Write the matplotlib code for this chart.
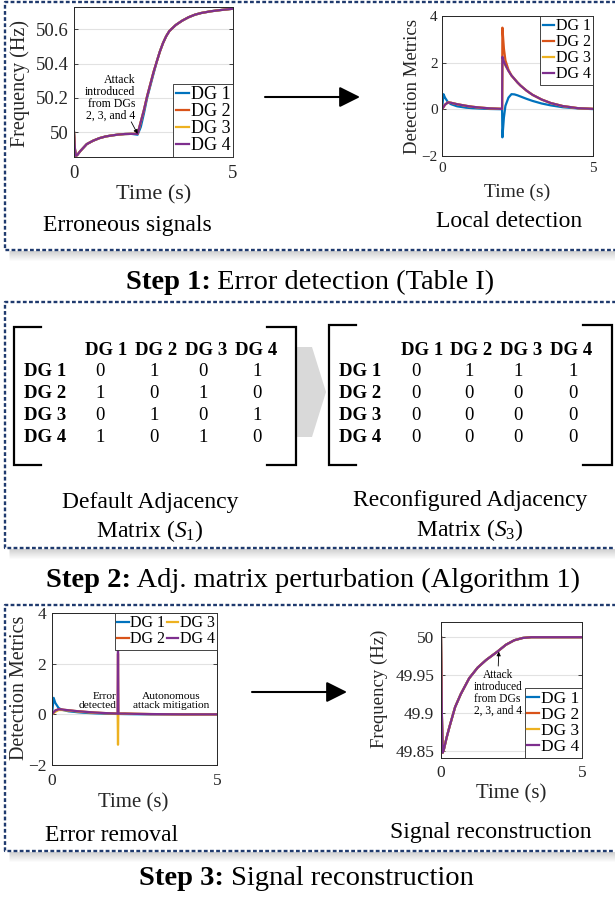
"""Three-step attack detection / mitigation figure
"""
import matplotlib
matplotlib.use('Agg')
import matplotlib.pyplot as plt
from matplotlib.patches import Polygon
from matplotlib.ticker import FormatStrFormatter

plt.rcParams['font.family'] = ['Liberation Serif', 'DejaVu Serif']
plt.rcParams['mathtext.fontset'] = 'custom'
plt.rcParams['mathtext.rm'] = 'Liberation Serif'
plt.rcParams['mathtext.it'] = 'Liberation Serif:italic'
plt.rcParams['mathtext.bf'] = 'Liberation Serif:bold'

W, H = 615, 897

# ---------------- data ----------------
dg_names = ['DG 1', 'DG 2', 'DG 3', 'DG 4']
dg_colors = ['#0072BD', '#D95319', '#EDB120', '#7E2F8E']

# step 1 - erroneous frequency signals
t_err = [0, 0.03, 0.06, 0.1, 0.2, 0.4, 0.6, 0.8, 1.0, 1.2, 1.4, 1.6, 1.8, 2.0, 2.1, 2.2,
         2.3, 2.4, 2.5, 2.6, 2.7, 2.8, 2.9, 3.0, 3.2, 3.4, 3.6, 3.8, 4.0, 4.3, 4.6, 5.0]
f_err_dg1 = [50.0, 49.9, 49.862, 49.866, 49.89, 49.93, 49.95, 49.965, 49.975, 49.981, 49.986, 49.989,
             49.99, 49.985, 50.03, 50.11, 50.2, 50.27, 50.34, 50.41, 50.47, 50.52, 50.56, 50.59,
             50.625, 50.65, 50.67, 50.685, 50.695, 50.705, 50.712, 50.72]
f_err_dg2 = [50.0, 49.9, 49.862, 49.866, 49.89, 49.93, 49.95, 49.965, 49.975, 49.981, 49.986, 49.989,
             49.99, 49.99, 50.06, 50.13, 50.21, 50.28, 50.35, 50.41, 50.47, 50.52, 50.56, 50.59,
             50.625, 50.65, 50.67, 50.685, 50.695, 50.705, 50.712, 50.72]
f_err_dg3 = f_err_dg2
f_err_dg4 = f_err_dg2

# step 1 - local detection metrics
t_loc = [0, 0.05, 0.1, 0.2, 0.3, 0.5, 0.8, 1.0, 1.3, 1.6, 1.99, 2.0, 2.05, 2.1, 2.2, 2.3,
         2.4, 2.5, 2.6, 2.8, 3.0, 3.3, 3.6, 4.0, 4.5, 5.0]
m_loc_dg1 = [0, 0.65, 0.5, 0.3, 0.22, 0.13, 0.07, 0.05, 0.03, 0.015, 0.005, -1.2, -0.35, 0.15, 0.5, 0.65,
             0.64, 0.6, 0.55, 0.45, 0.36, 0.25, 0.17, 0.09, 0.04, 0.01]
m_loc_dg2 = [0, 0.1, 0.2, 0.3, 0.28, 0.22, 0.15, 0.11, 0.07, 0.04, 0.02, 3.5, 2.6, 2.1, 1.7, 1.45,
             1.3, 1.15, 1.02, 0.8, 0.62, 0.42, 0.27, 0.14, 0.05, 0.02]
m_loc_dg3 = [0, 0.1, 0.2, 0.3, 0.28, 0.22, 0.15, 0.11, 0.07, 0.04, 0.02, 2.2, 2.02, 1.88, 1.65, 1.45,
             1.3, 1.15, 1.02, 0.8, 0.62, 0.42, 0.27, 0.14, 0.05, 0.02]
m_loc_dg4 = [0, 0.1, 0.2, 0.3, 0.28, 0.22, 0.15, 0.11, 0.07, 0.04, 0.02, 2.25, 2.05, 1.9, 1.65, 1.45,
             1.3, 1.15, 1.02, 0.8, 0.62, 0.42, 0.27, 0.14, 0.05, 0.02]

# step 2 - adjacency matrices
adj_default = [[0, 1, 0, 1],
               [1, 0, 1, 0],
               [0, 1, 0, 1],
               [1, 0, 1, 0]]
adj_reconf = [[0, 1, 1, 1],
              [0, 0, 0, 0],
              [0, 0, 0, 0],
              [0, 0, 0, 0]]

# step 3 - error removal metrics
t_rem = [0, 0.05, 0.1, 0.2, 0.3, 0.5, 0.8, 1.0, 1.3, 1.6, 1.99, 2.0, 2.01, 2.2, 2.5, 3.0, 4.0, 5.0]
m_rem_dg1 = [0, 0.65, 0.45, 0.25, 0.18, 0.12, 0.08, 0.06, 0.04, 0.025, 0.015, 0.015, 0.015, 0.01, 0.005, 0, 0, 0]
m_rem_dg2 = [0, 0.08, 0.15, 0.2, 0.19, 0.16, 0.12, 0.1, 0.07, 0.05, 0.03, 2.4, 0.03, 0.03, 0.02, 0.01, 0, 0]
m_rem_dg3 = [0, 0.05, 0.1, 0.17, 0.17, 0.15, 0.11, 0.09, 0.06, 0.045, 0.03, -1.2, 0.03, 0.03, 0.02, 0.01, 0, 0]
m_rem_dg4 = [0, 0.08, 0.15, 0.2, 0.19, 0.16, 0.12, 0.1, 0.07, 0.05, 0.03, 3.5, 0.03, 0.03, 0.02, 0.01, 0, 0]

# step 3 - reconstructed frequency
t_rec = [0, 0.03, 0.06, 0.1, 0.2, 0.3, 0.5, 0.7, 1.0, 1.3, 1.6, 2.0, 2.3, 2.6, 2.9, 3.2, 3.6, 4.0, 5.0]
f_rec = [50.0, 49.9, 49.848, 49.852, 49.868, 49.882, 49.908, 49.925, 49.946, 49.96, 49.97, 49.981,
         49.99, 49.996, 49.999, 50.0, 50.0, 50.0, 50.0]

attack_text = 'Attack\nintroduced\nfrom DGs\n2, 3, and 4'

# ---------------- figure ----------------
fig = plt.figure(figsize=(W / 100, H / 100), dpi=100)
ov = fig.add_axes([0, 0, 1, 1])
ov.set_xlim(0, W)
ov.set_ylim(H, 0)
ov.axis('off')


def px_axes(x0, y0, x1, y1):
	return fig.add_axes([x0 / W, 1 - y1 / H, (x1 - x0) / W, (y1 - y0) / H])


def style_axes(ax, tsize, xpad, ypad):
	ax.tick_params(direction='in', length=3, width=0.6, colors='#262626', labelsize=tsize,
				   top=True, right=True)
	ax.tick_params(axis='x', pad=xpad)
	ax.tick_params(axis='y', pad=ypad)
	for s in ax.spines.values():
		s.set_color('#262626')
		s.set_linewidth(0.7)
	ax.grid(True, color='#e2e2e2', lw=0.8)
	ax.set_axisbelow(True)


def add_legend(ax, size, loc, ncol=1):
	leg = ax.legend(loc=loc, fontsize=size, ncol=ncol, borderaxespad=0, fancybox=False,
					framealpha=1, edgecolor='#262626', handlelength=0.7, handletextpad=0.1,
					borderpad=0.15, labelspacing=0.0, columnspacing=0.1)
	leg.get_frame().set_linewidth(0.6)
	return leg


def labels(ax, xl, yl, size_x, size_y, xpos, ypos):
	ax.set_xlabel(xl, fontsize=size_x, color='#262626', va='center')
	ax.set_ylabel(yl, fontsize=size_y, color='#262626', va='center')
	ax.xaxis.set_label_coords(*xpos)
	ax.yaxis.set_label_coords(*ypos)


# dashed panel frames with a soft shadow underneath
for (y0, y1) in [(2, 250), (302, 548), (605, 851)]:
	for k in range(10):
		ov.plot([9, 620], [y1 + 1.5 + k, y1 + 1.5 + k], color='k', alpha=0.16 * (1 - k / 10),
				lw=0.8, solid_capstyle='butt')
	ov.plot([620, 5, 5, 620], [y0, y0, y1, y1], color='#1f3a6e', lw=1.7, ls=(0, (1.6, 1.0)))

# step titles (bold lead + regular text), centred
renderer = fig.canvas.get_renderer()
for cx, yb, bold, rest in [(310, 289, 'Step 1:', ' Error detection (Table I)'),
						   (313, 587, 'Step 2:', ' Adj. matrix perturbation (Algorithm 1)'),
						   (306, 885, 'Step 3:', ' Signal reconstruction')]:
	a = ov.text(0, yb, bold, fontsize=20.5, weight='bold', ha='left', va='baseline')
	b = ov.text(0, yb, rest, fontsize=20.5, ha='left', va='baseline')
	wa = a.get_window_extent(renderer).width
	wb = b.get_window_extent(renderer).width
	a.set_x(cx - (wa + wb) / 2)
	b.set_x(cx - (wa + wb) / 2 + wa)

# arrows between plots
for (xa, xb, y) in [(265, 360, 97), (252, 347, 692)]:
	ov.annotate('', xy=(xb, y), xytext=(xa, y),
				arrowprops=dict(arrowstyle='-|>,head_length=0.9,head_width=0.45', color='k',
								lw=1.5, mutation_scale=14, shrinkA=0, shrinkB=0))

# panel captions
ov.text(127, 231, 'Erroneous signals', fontsize=17, ha='center', va='baseline')
ov.text(509, 227, 'Local detection', fontsize=17, ha='center', va='baseline')
ov.text(112, 841, 'Error removal', fontsize=17, ha='center', va='baseline')
ov.text(491, 838, 'Signal reconstruction', fontsize=17, ha='center', va='baseline')

# ---------------- step 2 matrices ----------------
ov.add_patch(Polygon([(297, 347), (312, 347), (326, 392), (312, 437), (297, 437)],
					 closed=True, facecolor='#d9d9d9', edgecolor='none', zorder=1))
for (xl, xr, yt, yb) in [(14, 296, 327, 465), (329, 612, 325, 465)]:
	ov.plot([xl + 27, xl, xl, xl + 27], [yt, yt, yb, yb], color='k', lw=1.6, zorder=2,
			solid_joinstyle='miter')
	ov.plot([xr - 29, xr, xr, xr - 29], [yt, yt, yb, yb], color='k', lw=1.6, zorder=2,
			solid_joinstyle='miter')

for mat, row_x, col_x, val_x in [(adj_default, 24, [106, 156, 206, 256], [100, 154, 203, 257]),
								 (adj_reconf, 339, [422, 471, 521, 571], [416, 469, 518, 573])]:
	for j, name in enumerate(dg_names):
		ov.text(col_x[j], 355, name, fontsize=13.5, weight='bold', ha='center', va='baseline')
	for i, name in enumerate(dg_names):
		yb = 376 + i * 22
		ov.text(row_x, yb, name, fontsize=13.5, weight='bold', ha='left', va='baseline')
		for j in range(4):
			ov.text(val_x[j], yb, str(mat[i][j]), fontsize=13.5, ha='center', va='baseline')

ov.text(150, 508, 'Default Adjacency', fontsize=17, ha='center', va='baseline')
ov.text(150, 537, r'Matrix ($S_1$)', fontsize=17, ha='center', va='baseline')
ov.text(470, 506, 'Reconfigured Adjacency', fontsize=17, ha='center', va='baseline')
ov.text(470, 536, r'Matrix ($S_3$)', fontsize=17, ha='center', va='baseline')

# ---------------- plot 1: erroneous signals ----------------
ax1 = px_axes(74, 7, 233, 157)
for f, c, n in zip([f_err_dg1, f_err_dg2, f_err_dg3, f_err_dg4], dg_colors, dg_names):
	ax1.plot(t_err, f, color=c, lw=1.6, label=n)
ax1.set_xlim(0, 5)
ax1.set_ylim(49.855, 50.73)
ax1.set_xticks([0, 5])
ax1.set_yticks([50, 50.2, 50.4, 50.6])
ax1.yaxis.set_major_formatter(FormatStrFormatter('%g'))
style_axes(ax1, 13.5, 6, 4)
labels(ax1, 'Time (s)', 'Frequency (Hz)', 16, 14.5, (0.5, -0.253), (-0.336, 0.493))
add_legend(ax1, 13, 'lower right')
ax1.text(1.93, 50.2, attack_text, fontsize=8.5, ha='right', va='center', linespacing=1.0)
ax1.annotate('', xy=(2.0, 49.99), xytext=(1.8, 50.06),
			 arrowprops=dict(arrowstyle='-|>', color='k', lw=0.6, mutation_scale=6,
							 shrinkA=0, shrinkB=0))

# ---------------- plot 2: local detection ----------------
ax2 = px_axes(442, 16, 593, 156)
for m, c, n in zip([m_loc_dg1, m_loc_dg2, m_loc_dg3, m_loc_dg4], dg_colors, dg_names):
	ax2.plot(t_loc, m, color=c, lw=1.6, label=n)
ax2.set_xlim(0, 5)
ax2.set_ylim(-2, 4)
ax2.set_xticks([0, 5])
ax2.set_yticks([-2, 0, 2, 4])
style_axes(ax2, 11, 4, 3)
labels(ax2, 'Time (s)', 'Detection Metrics', 14, 13.5, (0.495, -0.262), (-0.194, 0.495))
add_legend(ax2, 11.5, 'upper right')

# ---------------- plot 3: error removal ----------------
ax3 = px_axes(52, 613, 217, 765)
for m, c, n in zip([m_rem_dg1, m_rem_dg2, m_rem_dg3, m_rem_dg4], dg_colors, dg_names):
	ax3.plot(t_rem, m, color=c, lw=1.6, label=n)
ax3.set_xlim(0, 5)
ax3.set_ylim(-2, 4)
ax3.set_xticks([0, 5])
ax3.set_yticks([-2, 0, 2, 4])
style_axes(ax3, 12.5, 6, 4)
labels(ax3, 'Time (s)', 'Detection Metrics', 15, 14.5, (0.493, -0.252), (-0.194, 0.505))
add_legend(ax3, 11.5, 'upper right', ncol=2)
ax3.text(1.94, 0.54, 'Error\ndetected', fontsize=8.2, ha='right', va='center', linespacing=1.0)
ax3.text(3.6, 0.54, 'Autonomous\nattack mitigation', fontsize=8.2, ha='center', va='center',
		 linespacing=1.0)

# ---------------- plot 4: signal reconstruction ----------------
ax4 = px_axes(441, 622, 582, 758)
for c, n in zip(dg_colors, dg_names):
	ax4.plot(t_rec, f_rec, color=c, lw=1.6, label=n)
ax4.set_xlim(0, 5)
ax4.set_ylim(49.841, 50.02)
ax4.set_xticks([0, 5])
ax4.set_yticks([49.85, 49.9, 49.95, 50])
ax4.yaxis.set_major_formatter(FormatStrFormatter('%g'))
style_axes(ax4, 12.5, 5, 5)
labels(ax4, 'Time (s)', 'Frequency (Hz)', 15, 13.5, (0.501, -0.26), (-0.44, 0.507))
add_legend(ax4, 12.5, 'lower right')
ax4.text(2.01, 49.927, attack_text, fontsize=8.3, ha='center', va='center', linespacing=1.0)
ax4.annotate('', xy=(2.05, 49.981), xytext=(2.03, 49.962),
			 arrowprops=dict(arrowstyle='-|>', color='k', lw=0.6, mutation_scale=6,
							 shrinkA=0, shrinkB=0))

fig.savefig('out.png', dpi=100)
